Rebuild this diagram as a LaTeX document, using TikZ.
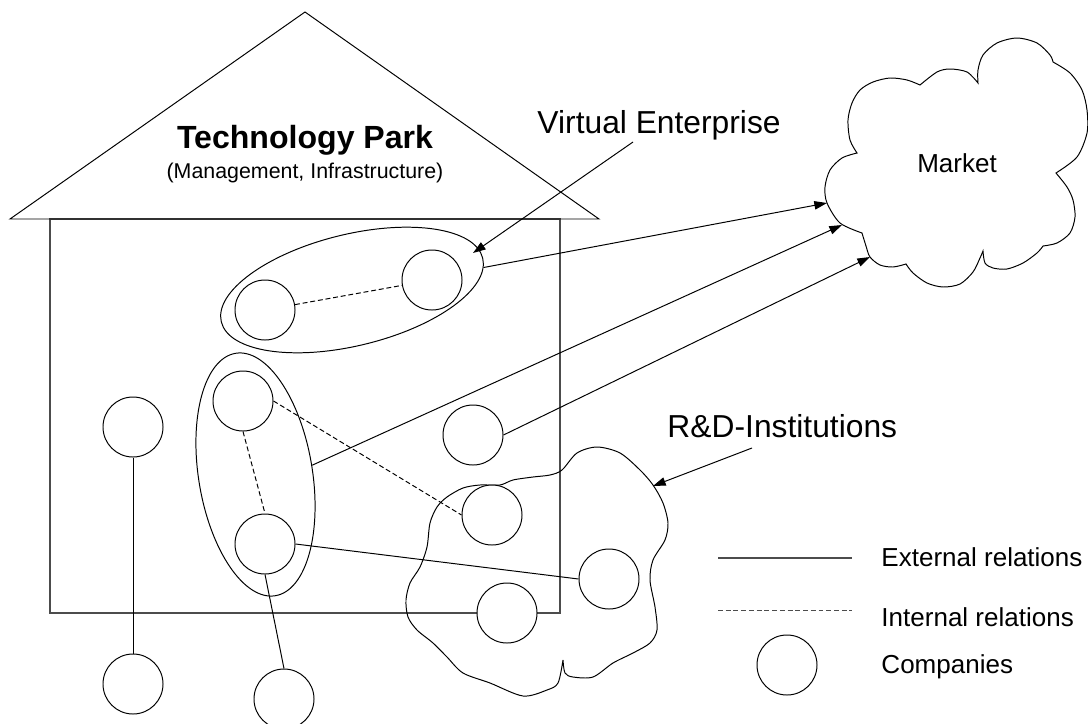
\documentclass[tikz,border=0pt]{standalone}
\usepackage{fontspec}
\setmainfont{Liberation Sans}
\usetikzlibrary{arrows.meta,shapes.geometric}

\begin{document}
\begin{tikzpicture}[x=0.025cm, y=-0.025cm, line width=0.7pt, >={Triangle[length=9pt,width=6pt]}]
	\tikzstyle{every node}=[inner sep=0pt]
	\tikzstyle{company}=[draw, circle, fill=white, minimum size=1.5cm]
	\tikzstyle{internal}=[dash pattern=on 3.5pt off 2pt]
	\tikzstyle{group}=[draw, ellipse]
	\tikzstyle{wall}=[draw=black!70, line width=1pt]
	\tikzstyle{bigtext}=[font=\fontsize{22.6}{27}\selectfont]
	\tikzstyle{midtext}=[font=\fontsize{18.5}{22}\selectfont]
	\useasboundingbox (0,0) rectangle (1088,724);
	% the park
	\draw [wall] (50,219) rectangle (560,613);
	\draw (10,219) -- (305,12) -- (599,219) -- cycle;
	\node [font={\fontsize{22.8}{27}\selectfont\bfseries}, anchor=base] (park) at (305,148) {Technology Park};
	\node [font=\fontsize{15.2}{18}\selectfont, anchor=base] (mgmt) at (305,178) {(Management, Infrastructure)};
	% market
	\draw plot[smooth] coordinates {(857,153) (850,140) (848,120) (852,103) (860,90) (873,82) (890,78) (907,80) (920,85)}
		-- plot[smooth] coordinates {(920,85) (937,72) (950,69) (967,72) (978,83)}
		-- plot[smooth] coordinates {(978,83) (978,70) (983,55) (997,43) (1017,38) (1037,43) (1050,55) (1053,62)}
		-- plot[smooth] coordinates {(1053,62) (1070,73) (1082,90) (1087,110) (1087,133) (1077,157) (1056,173)}
		-- plot[smooth] coordinates {(1056,173) (1067,187) (1073,200) (1075,217) (1070,233) (1057,243) (1043,246)}
		-- plot[smooth] coordinates {(1043,246) (1037,253) (1023,263) (1007,269) (993,268) (985,263) (983,251)}
		-- plot[smooth] coordinates {(983,251) (980,258) (973,272) (960,284) (943,287) (927,283) (913,273) (906,264)}
		-- plot[smooth] coordinates {(906,264) (893,267) (880,265) (870,257) (866,246) (862,233)}
		-- plot[smooth] coordinates {(862,233) (840,223) (827,203) (825,187) (830,170) (842,158) (857,153)} -- cycle;
	\node [midtext, anchor=base] (market) at (957,172) {Market};
	\coordinate (mk1) at (827,203);
	\coordinate (mk2) at (842,225);
	\coordinate (mk3) at (870,257);
	% R&D institutions
	\draw plot[smooth] coordinates {(563,660) (565,673) (573,677) (593,677) (613,663) (633,653) (650,643) (657,630)
		(655,607) (650,580) (653,560) (665,540) (668,523) (663,503) (653,485) (640,470) (620,453) (597,447)
		(577,453) (562,470) (550,475) (533,477) (513,480) (500,485) (480,485) (463,488) (447,497) (437,507)
		(430,523) (427,547) (420,567) (410,583) (406,600) (408,617) (417,630) (433,643) (447,657) (463,673)
		(490,683) (523,696) (547,690) (558,683) (563,660)};
	\node [bigtext, anchor=base west] (rdlabel) at (667,437) {R\&D-Institutions};
	\coordinate (rdfrom) at (752,448);
	\coordinate (rdto) at (653,486);
	% virtual enterprise
	\node [bigtext, anchor=base west] (velabel) at (537,133) {Virtual Enterprise};
	\coordinate (vefrom) at (633,142);
	\coordinate (veto) at (473,253);
	\node [group, minimum width=6.725cm, minimum height=2.785cm, rotate=13.7] (ve) at (352,290) {};
	\node [group, minimum width=2.845cm, minimum height=6.14cm, rotate=9.3] (vert) at (255.5,474.5) {};
	% companies
	\node [company] (c1) at (265,310) {};
	\node [company] (c2) at (432,280) {};
	\node [company] (c3) at (243,401) {};
	\node [company] (c4) at (265,544) {};
	\node [company] (c5) at (133,427) {};
	\node [company] (c6) at (133,684) {};
	\node [company] (c7) at (284,699) {};
	\node [company] (c8) at (473,435) {};
	\node [company] (c9) at (492,515) {};
	\node [company] (c10) at (609,579) {};
	\node [company] (c11) at (507,613) {};
	% relations
	\draw [internal] (c1) -- (c2);
	\draw [internal] (c3.south) -- (c4.north);
	\draw [internal] (c3.east) -- (c9.west);
	\draw (c4.east) -- (c10.west);
	\draw (c4.south) -- (c7.north);
	\draw (c5.south) -- (c6.north);
	\draw [->] (ve.-4) -- (mk1);
	\draw [->] (vert.east) -- (mk2);
	\draw [->] (c8.east) -- (mk3);
	\draw [->] (vefrom) -- (veto);
	\draw [->] (rdfrom) -- (rdto);
	% legend
	\coordinate (ext1) at (718,558);
	\coordinate (ext2) at (852,558);
	\coordinate (int1) at (718,610);
	\coordinate (int2) at (852,610);
	\draw [wall] (ext1) -- (ext2);
	\draw [wall, line width=0.7pt, internal] (int1) -- (int2);
	\node [company] (legc) at (787,665) {};
	\node [midtext, anchor=base west] (extlabel) at (881,566) {External relations};
	\node [midtext, anchor=base west] (intlabel) at (881,626) {Internal relations};
	\node [midtext, anchor=base west] (comlabel) at (881,673) {Companies};
\end{tikzpicture}
\end{document}
